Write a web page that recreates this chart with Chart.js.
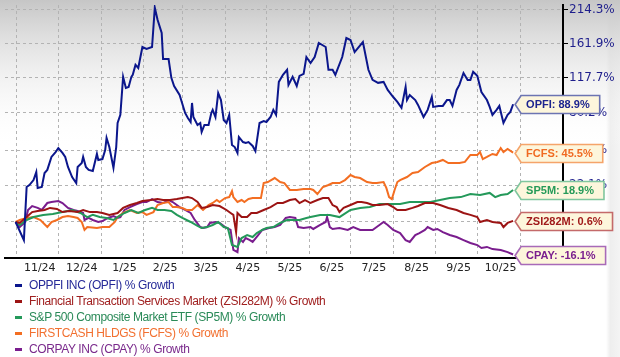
<!DOCTYPE html>
<html><head><meta charset="utf-8">
<script src="https://cdn.jsdelivr.net/npm/chart.js@4.4.1/dist/chart.umd.min.js"></script>
<style>
html,body{margin:0;padding:0;background:#fff;}
#wrap{position:relative;width:620px;height:357px;overflow:hidden;}
canvas{display:block;}
#legend{position:absolute;left:0;top:0;width:620px;height:357px;pointer-events:none;font-family:"Liberation Sans",Arial,sans-serif;font-size:12px;}
.row{position:absolute;left:0;height:16px;line-height:16px;white-space:nowrap;}
.dash{position:absolute;left:15px;top:7px;width:7px;height:3px;}
.txt{position:absolute;left:29px;top:0;letter-spacing:-0.4px;}
</style></head>
<body><div id="wrap"><canvas id="c" width="620" height="357"></canvas><div id="legend"></div></div>
<script>
// x values: calendar days since 2024-11-01
const monthStartDays = [0,30,61,92,120,151,181,212,242,273,304,334,365];
const monthLabels = ['11/24','12/24','1/25','2/25','3/25','4/25','5/25','6/25','7/25','8/25','9/25','10/25'];
const yTickValues = [214.3,161.9,117.7,80.2,47.5,22.1,0.5];   // % growth

const seriesNames = [
  'OPPFI INC (OPFI) % Growth',
  'Financial Transaction Services Market (ZSI282M) % Growth',
  'S&P 500 Composite Market ETF (SP5M) % Growth',
  'FIRSTCASH HLDGS (FCFS) % Growth',
  'CORPAY INC (CPAY) % Growth'
];
const tickers = ['OPFI','ZSI282M','SP5M','FCFS','CPAY'];

const opfiDays = [-1,5,7,9,12,14,15,18,20,22,25,28,30,33,35,37,40,43,44,47,48,50,52,55,58,59,62,64,65,67,70,72,73,75,77,79,81,83,84,86,88,91,94,98,100,102,105,106,110,112,114,118,122,124,126,127,128,131,133,134,136,139,141,142,144,146,148,150,152,154,156,158,160,161,164,166,168,171,173,176,179,181,184,186,188,190,193,196,197,200,203,205,208,210,213,216,219,224,226,229,231,236,239,242,245,251,255,258,262,266,269,273,276,279,282,283,285,289,291,295,298,301,302,306,309,312,314,316,319,321,324,327,329,331,334,337,341,343,345,348,350,353,356,358,360];
const opfiGrowth = [0,-9.3,20.8,22.1,25.4,31.0,20.2,20.8,30.3,32.5,42.1,45.9,49.1,45.2,42.1,34.6,27.5,23.4,34.6,37.5,42.1,34.6,32.5,31.7,44.4,39.8,40.5,47.5,57.4,49.9,33.9,49.9,70.7,78.3,119.0,106.2,107.3,119.0,121.4,133.6,129.7,157.3,154.5,157.3,218.2,198.2,177.6,141.1,141.1,117.8,108.4,98.5,80.2,75.4,71.6,90.2,76.3,68.9,70.7,62.6,68.9,68.9,80.2,83.2,76.3,100.6,93.2,73.5,70.7,78.3,51.6,49.9,45.2,58.3,54.0,53.2,54.0,50.8,46.7,70.7,72.5,71.6,76.3,83.2,78.3,113.1,121.4,127.5,109.7,119.0,108.4,120.2,122.6,143.7,136.0,143.7,162.9,157.3,127.5,127.5,121.4,143.7,170.1,167.2,150.4,164.3,127.5,115.4,112.0,113.1,104.0,96.4,91.2,85.2,107.3,93.2,98.5,93.2,88.2,76.3,83.2,96.4,86.2,87.2,87.2,93.2,93.2,87.2,104.0,109.7,123.6,115.4,115.4,125.0,120.2,101.7,93.2,86.2,78.3,83.2,87.2,70.7,78.3,81.2,88.9];

const zsiDays = [-1,2,7,11,15,20,24,29,33,38,44,48,53,58,62,67,73,77,82,87,91,97,102,106,111,116,120,124,127,131,134,138,142,147,152,155,157,159,160,163,167,170,174,179,184,189,193,198,202,205,209,213,218,222,226,229,232,234,237,242,247,250,254,258,263,269,273,276,282,287,291,296,302,307,313,319,324,329,334,336,341,345,351,353,356,360];
const zsiGrowth = [0,-0.5,2.7,5.5,6.1,6.7,7.9,7.3,5.5,6.1,5.5,6.7,5.5,5.5,5.0,3.9,5.0,7.9,9.6,10.8,12.0,12.6,13.2,12.6,12.6,13.2,13.8,14.4,13.8,11.4,7.9,8.4,9.6,9.0,6.7,5.0,3.9,-5.3,5.0,2.7,2.7,5.0,5.0,6.7,8.4,10.8,10.8,12.6,13.2,10.8,12.6,10.8,12.6,13.8,13.8,9.6,8.4,5.5,7.9,9.6,11.4,11.4,10.8,9.6,9.6,10.2,8.4,6.7,6.7,7.9,9.0,10.8,10.8,9.6,7.9,6.7,5.0,3.9,2.7,0,1.1,0,-0.5,-2.7,-0.5,0.6];

const sp5mDays = [-1,2,7,12,19,26,33,40,46,51,55,60,65,70,73,78,83,88,93,98,102,107,112,116,120,126,131,134,138,142,146,150,153,156,160,163,167,171,174,178,181,186,191,196,200,205,210,213,220,227,234,242,249,256,263,271,278,285,292,300,307,314,322,329,336,343,347,351,356,360];
const sp5mGrowth = [0,-1.6,1.1,2.7,3.9,4.4,5.5,6.7,5.0,2.7,3.9,2.7,2.2,1.1,2.7,5.0,6.7,5.0,6.7,7.9,6.7,6.7,6.1,3.9,2.2,0,-2.1,-3.2,-2.7,-1.6,0,-2.7,-3.2,-11.7,-12.6,-8.3,-6.8,-7.8,-5.8,-4.2,-3.2,-2.7,-0.5,1.1,1.1,1.1,2.2,2.7,3.9,3.9,2.7,6.7,7.9,8.4,10.2,10.2,10.2,11.4,11.4,11.4,12.6,13.8,14.4,16.3,15.7,17.0,14.4,15.7,16.3,18.9];

const fcfsDays = [-1,2,7,12,17,22,25,29,33,37,41,44,47,49,51,58,62,67,71,73,77,82,87,91,94,99,102,106,110,113,116,120,123,127,131,135,139,142,145,147,151,154,156,157,160,163,165,168,171,175,177,179,182,187,191,194,198,203,208,213,215,218,222,226,229,234,238,242,245,249,254,258,261,266,268,270,272,274,276,278,283,287,291,296,301,305,309,313,316,321,325,329,334,336,338,341,345,348,351,353,356,360];
const fcfsGrowth = [0,1.1,2.2,2.7,1.1,-2.7,0,1.1,2.7,3.3,2.7,2.2,0,-4.2,-2.7,-3.2,-2.7,-2.7,0,2.7,5.0,6.7,5.0,5.5,3.9,5.5,9.6,10.8,11.4,8.4,8.4,7.9,6.7,6.7,9.6,6.7,9.6,10.8,12.6,11.4,13.8,14.4,18.2,14.4,11.4,12.6,11.4,13.2,13.8,13.8,13.8,23.4,24.1,26.8,24.1,23.4,18.9,18.9,19.5,19.5,18.9,16.3,20.8,22.1,23.4,23.4,25.4,28.9,27.5,26.8,24.1,23.4,23.4,24.1,20.2,14.4,13.2,18.9,24.1,25.4,27.5,30.3,31.0,34.6,37.5,38.3,39.8,37.5,37.5,37.5,38.3,43.6,43.6,45.9,40.5,42.1,44.4,43.6,49.1,45.9,48.3,45.5];

const cpayDays = [-1,2,6,8,11,15,18,22,25,30,33,37,41,44,48,49,52,55,59,62,66,70,73,75,78,82,87,91,94,98,102,106,110,113,118,122,126,129,133,135,138,140,144,147,151,155,157,160,161,164,166,169,171,175,178,183,187,191,195,198,202,204,208,213,215,220,224,225,227,229,234,240,244,249,254,258,263,266,269,273,278,282,285,289,292,296,298,302,305,309,314,319,324,329,334,337,341,345,351,356,360];
const cpayGrowth = [0,-2.7,0,6.7,9.0,7.9,6.7,10.8,11.4,12.0,10.8,7.9,6.7,6.1,5.0,1.1,2.2,1.1,0,0.5,2.2,3.3,2.2,2.7,6.7,8.4,10.2,11.4,11.4,13.2,11.4,10.8,12.6,11.4,8.4,6.7,5.0,1.1,-2.7,-3.2,-2.7,-0.5,0,-0.5,-2.7,-4.2,-14.0,-15.0,-8.3,-10.2,-8.3,-9.3,-10.2,-6.8,-4.2,-3.2,-2.7,-1.6,2.2,2.7,2.2,-2.7,-3.2,-2.7,-3.7,-1.6,0,2.7,-2.7,-3.7,-3.2,-4.2,-2.7,-4.2,-4.2,-4.2,-1.6,0,-1.6,-4.2,-5.8,-9.3,-10.2,-6.8,-5.8,-4.2,-2.7,-4.2,-3.7,-5.3,-6.8,-7.8,-9.3,-10.7,-11.7,-13.1,-12.6,-13.6,-14.0,-15.0,-16.1];

const lineColors = ['#0b168c','#9c1414','#24995a','#f36e22','#7a1d8e'];
const labelTextColors = ['#1c248f','#a01a1a','#269a58','#f06a22','#7a1e8e'];
const labelBorderColors = ['#6c74b2','#c46a6a','#80c69e','#f5a46a','#a86ab8'];
const legendTextColors = ['#262a98','#a02020','#2a8a58','#f27030','#7a2a8c'];

const allDays = [opfiDays, zsiDays, sp5mDays, fcfsDays, cpayDays];
const allGrowth = [opfiGrowth, zsiGrowth, sp5mGrowth, fcfsGrowth, cpayGrowth];

const xMin = -8.7, xMax = 396.2;
const monthMid = monthLabels.map((_, i) => (monthStartDays[i] + monthStartDays[i + 1]) / 2 + 1.5);

const datasets = seriesNames.map((name, i) => ({
  label: name,
  data: allDays[i].map((d, k) => ({x: d, y: 100 + allGrowth[i][k]})),
  borderColor: lineColors[i],
  backgroundColor: lineColors[i],
  borderWidth: 2,
  pointRadius: 0,
  tension: 0,
  fill: false,
  xAxisID: 'x',
  yAxisID: 'y'
}));

const bgPlugin = {
  id: 'bg',
  beforeDraw(chart) {
    const {ctx, width, height} = chart;
    ctx.save();
    ctx.fillStyle = '#ffffff';
    ctx.fillRect(0, 0, width, height);
    const s = ctx.createLinearGradient(606, 0, 620, 0);
    s.addColorStop(0, 'rgba(238,238,238,0)');
    s.addColorStop(0.3, 'rgba(238,238,238,1)');
    s.addColorStop(1, 'rgba(244,244,244,1)');
    ctx.fillStyle = s;
    ctx.fillRect(606, 0, 14, height);
    const g = ctx.createLinearGradient(0, 0, 0, 150);
    g.addColorStop(0, 'rgba(198,198,198,1)');
    g.addColorStop(1, 'rgba(255,255,255,0)');
    ctx.fillStyle = g;
    ctx.fillRect(0, 0, width, 150);
    ctx.restore();
  }
};

const endLabelPlugin = {
  id: 'endLabels',
  afterDatasetsDraw(chart) {
    const ctx = chart.ctx;
    ctx.save();
    ctx.font = 'bold 11px "Liberation Sans", Arial, sans-serif';
    ctx.textBaseline = 'middle';
    chart.data.datasets.forEach((ds, i) => {
      const meta = chart.getDatasetMeta(i);
      const pt = meta.data[meta.data.length - 1];
      const vals = allGrowth[i];
      const text = tickers[i] + ': ' + vals[vals.length - 1].toFixed(1) + '%';
      const tw = ctx.measureText(text).width;
      const tip = pt.x + 2, y = Math.round(pt.y) + 0.5;
      const h = 18, left = tip + 6, right = left + tw + 15;
      ctx.beginPath();
      ctx.moveTo(tip, y);
      ctx.lineTo(left, y - h / 2);
      ctx.lineTo(right, y - h / 2);
      ctx.lineTo(right, y + h / 2);
      ctx.lineTo(left, y + h / 2);
      ctx.closePath();
      ctx.fillStyle = '#fdf6dc';
      ctx.fill();
      ctx.lineWidth = 1.6;
      ctx.strokeStyle = labelBorderColors[i];
      ctx.stroke();
      ctx.fillStyle = labelTextColors[i];
      ctx.fillText(text, left + 5, y + 0.5);
    });
    ctx.restore();
  }
};

new Chart(document.getElementById('c'), {
  type: 'line',
  data: {datasets},
  options: {
    responsive: false,
    animation: false,
    devicePixelRatio: 1,
    layout: {padding: {left: 5, top: 5, right: 0, bottom: 79}},
    plugins: {legend: {display: false}, tooltip: {enabled: false}},
    scales: {
      x: {
        type: 'linear', position: 'bottom', min: xMin, max: xMax, weight: 0,
        afterBuildTicks: s => { s.ticks = monthStartDays.map(v => ({value: v})); },
        afterFit: s => { s.height = 0; s.paddingLeft = 0; s.paddingRight = 0; },
        ticks: {display: false},
        grid: {color: '#b3b3b3', lineWidth: 1, drawTicks: false},
        border: {display: true, color: '#000000', width: 2, dash: [3, 3]}
      },
      x2: {
        type: 'linear', position: 'bottom', min: xMin, max: xMax, weight: 1,
        afterBuildTicks: s => { s.ticks = monthMid.map(v => ({value: v})); },
        afterFit: s => { s.height = 20; s.paddingLeft = 0; s.paddingRight = 0; },
        ticks: {autoSkip: false, maxRotation: 0, padding: 4, color: '#222222',
          font: {family: 'DejaVu Sans', size: 11},
          callback: (v, i) => monthLabels[i]},
        grid: {display: false, drawTicks: false},
        border: {display: false}
      },
      y: {
        type: 'logarithmic', position: 'right', min: 82.33, max: 322.8, bounds: 'data',
        afterBuildTicks: s => { s.ticks = yTickValues.map(v => ({value: 100 + v})); },
        afterFit: s => { s.width = 57; s.paddingTop = 0; s.paddingBottom = 0; },
        ticks: {autoSkip: false, padding: 1, color: '#1e1e8c',
          font: {family: 'DejaVu Sans', size: 12},
          callback: (v, i) => yTickValues[i].toFixed(1) + '%'},
        grid: {color: '#b3b3b3', lineWidth: 1, tickColor: '#000000', tickLength: 5, tickWidth: 1},
        border: {display: true, color: '#000000', width: 2, dash: [3, 3]}
      }
    }
  },
  plugins: [bgPlugin, endLabelPlugin]
});

// HTML legend built from the series arrays
const legendEl = document.getElementById('legend');
seriesNames.forEach((name, i) => {
  const row = document.createElement('div');
  row.className = 'row';
  row.style.top = (277 + 16 * i) + 'px';
  const dash = document.createElement('span');
  dash.className = 'dash';
  dash.style.background = lineColors[i];
  const txt = document.createElement('span');
  txt.className = 'txt';
  txt.style.color = legendTextColors[i];
  txt.textContent = name;
  row.appendChild(dash);
  row.appendChild(txt);
  legendEl.appendChild(row);
});
</script>
</body></html>
